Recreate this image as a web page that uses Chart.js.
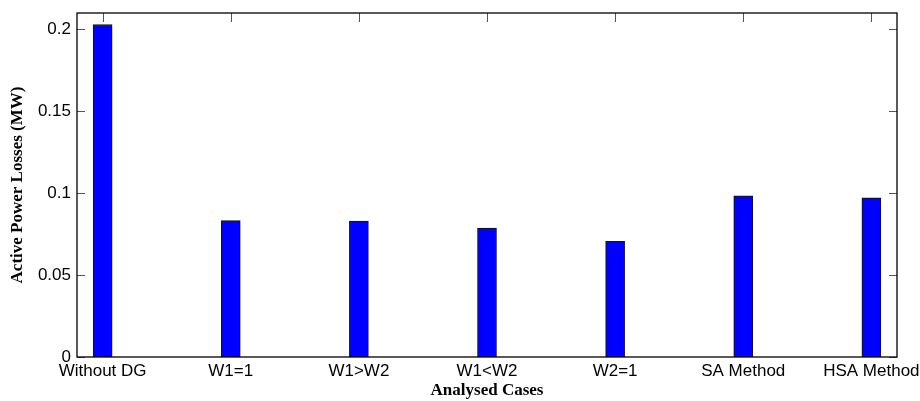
<!DOCTYPE html>
<html>
<head>
<meta charset="utf-8">
<script src="https://cdn.jsdelivr.net/npm/chart.js@4"></script>
<style>
  body { margin: 0; background: #fff; }
  #wrap { width: 920px; height: 401px; }
</style>
</head>
<body>
<div id="wrap"><canvas id="myChart" width="920" height="401"></canvas></div>
<script>
// categories and values
const cases = ["Without DG", "W1=1", "W1>W2", "W1<W2", "W2=1", "SA Method", "HSA Method"];
const losses = [0.203, 0.0833, 0.0829, 0.0787, 0.0706, 0.0984, 0.0972];
const yTicks = [0, 0.05, 0.1, 0.15, 0.2];
const yTickLabels = ["0", "0.05", "0.1", "0.15", "0.2"];

// matlab style box with inward ticks on all four sides
const boxTicks = {
  id: "boxTicks",
  beforeDatasetsDraw(chart) {
    const { ctx, chartArea: a, scales } = chart;
    ctx.save();
    ctx.strokeStyle = "#555";
    ctx.lineWidth = 1;
    ctx.beginPath();
    scales.x.ticks.forEach((t) => {
      const px = Math.round(scales.x.getPixelForValue(t.value)) + 0.5;
      ctx.moveTo(px, a.top); ctx.lineTo(px, a.top + 9);
      ctx.moveTo(px, a.bottom); ctx.lineTo(px, a.bottom - 9);
    });
    scales.y.ticks.forEach((t) => {
      const py = Math.round(scales.y.getPixelForValue(t.value)) + 0.5;
      ctx.moveTo(a.left, py); ctx.lineTo(a.left + 8, py);
      ctx.moveTo(a.right, py); ctx.lineTo(a.right - 8, py);
    });
    ctx.stroke();
    ctx.restore();
  },
  afterDatasetsDraw(chart) {
    const { ctx, chartArea: a } = chart;
    ctx.save();
    ctx.strokeStyle = "#000";
    ctx.lineWidth = 1.3;
    ctx.strokeRect(a.left, a.top, a.right - a.left, a.bottom - a.top);
    ctx.restore();
  }
};

const ctx = document.getElementById("myChart").getContext("2d");
const chart = new Chart(ctx, {
  type: "bar",
  data: {
    datasets: [
      {
        label: "Losses",
        data: losses.map((v, i) => ({ x: i, y: v })),
        backgroundColor: "#0000ff",
        borderColor: "#111",
        borderWidth: 1,
        borderSkipped: false,
        barThickness: 19
      }
    ]
  },
  options: {
    responsive: false,
    animation: false,
    layout: { padding: { left: 0, right: 23, top: 13, bottom: 0 } },
    plugins: { legend: { display: false }, tooltip: { enabled: false } },
    scales: {
      x: {
        type: "linear",
        min: -0.2,
        max: 6.2,
        offset: false,
        afterBuildTicks: (s) => { s.ticks = cases.map((c, i) => ({ value: i })); },
        afterFit: (s) => { s.height = 44; s.paddingLeft = 0; s.paddingRight = 0; },
        grid: { display: false, drawTicks: false, offset: false },
        border: { display: false },
        ticks: {
          padding: 4,
          color: "#000",
          autoSkip: false,
          maxRotation: 0,
          font: { family: "Liberation Sans, Arial", size: 17 },
          callback: (v) => cases[v]
        },
        title: {
          display: true,
          text: "Analysed Cases",
          color: "#000",
          padding: { top: 0, bottom: 0 },
          font: { family: "Liberation Serif, Times New Roman", size: 17, weight: "bold" }
        }
      },
      y: {
        min: 0,
        max: 0.21,
        afterBuildTicks: (s) => { s.ticks = yTicks.map((v) => ({ value: v })); },
        afterFit: (s) => { s.width = 77; s.paddingTop = 0; s.paddingBottom = 0; },
        grid: { display: false, drawTicks: false },
        border: { display: false },
        ticks: {
          padding: 6,
          color: "#000",
          font: { family: "Liberation Sans, Arial", size: 17 },
          callback: (v) => yTickLabels[yTicks.indexOf(v)]
        },
        title: {
          display: true,
          text: "Active Power Losses (MW)",
          color: "#000",
          padding: { top: 7, bottom: 0 },
          font: { family: "Liberation Serif, Times New Roman", size: 17, weight: "bold" }
        }
      }
    }
  },
  plugins: [boxTicks]
});
</script>
</body>
</html>
